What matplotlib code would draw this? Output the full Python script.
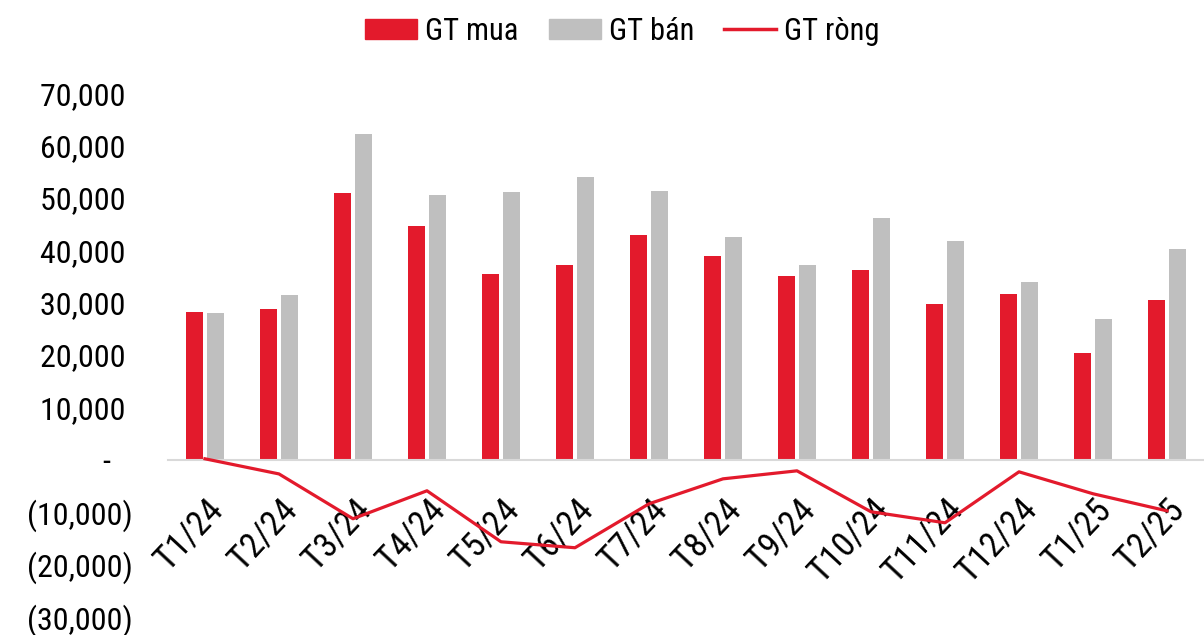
import matplotlib
matplotlib.use("Agg")
import matplotlib.pyplot as plt
import matplotlib.ticker as mticker
import matplotlib.patches as mpatches
from matplotlib.lines import Line2D
import numpy as np

months = ["T1/24", "T2/24", "T3/24", "T4/24", "T5/24", "T6/24", "T7/24",
          "T8/24", "T9/24", "T10/24", "T11/24", "T12/24", "T1/25", "T2/25"]
gt_mua = [28240, 28800, 50950, 44660, 35500, 37210, 42940,
          38930, 35110, 36260, 29770, 31680, 20420, 30530]
gt_ban = [28050, 31490, 62200, 50570, 51150, 54000, 51340,
          42560, 37210, 46180, 41790, 33970, 26900, 40270]
gt_rong = [200, -2690, -11250, -5910, -15650, -16790, -8400,
           -3630, -2100, -9920, -12020, -2290, -6480, -9740]

RED = "#E31A2C"
GRAY = "#BFBFBF"

plt.rcParams["font.family"] = ["Liberation Sans Narrow", "Roboto Condensed", "DejaVu Sans"]

fig = plt.figure(figsize=(12.04, 6.35), dpi=100)
ax = fig.add_axes([0.1395, 0.0285, 0.8605, 0.8245])

x = np.arange(len(months))
w = 0.225
ax.bar(x - 0.143, gt_mua, width=w, color=RED, zorder=2)
ax.bar(x + 0.143, gt_ban, width=w, color=GRAY, zorder=2)
ax.plot(x, gt_rong, color=RED, linewidth=2.3, zorder=3)

ax.set_xlim(-0.5, len(months) - 0.5)
ax.set_ylim(-30000, 70000)
ax.yaxis.set_major_locator(mticker.MultipleLocator(10000))


def fmt(v, _):
    if abs(v) < 1:
        return "-   "
    if v < 0:
        return f"({abs(v):,.0f})"
    return f"{v:,.0f} "


ax.yaxis.set_major_formatter(mticker.FuncFormatter(fmt))

for s in ["top", "right", "left"]:
    ax.spines[s].set_visible(False)
ax.spines["bottom"].set_position(("data", 0))
ax.spines["bottom"].set_color("#D9D9D9")
ax.spines["bottom"].set_linewidth(1.5)

ax.set_xticks(x)
ax.set_xticklabels(months, rotation=47, ha="right", va="top", rotation_mode="anchor")
ax.tick_params(axis="x", length=0, pad=24, labelsize=25)
ax.tick_params(axis="y", length=0, pad=25, labelsize=23)

handles = [
    mpatches.Patch(color=RED, label="GT mua"),
    mpatches.Patch(color=GRAY, label="GT bán"),
    Line2D([], [], color=RED, linewidth=2.5, label="GT ròng"),
]
fig.legend(handles=handles, loc="center", bbox_to_anchor=(0.517, 0.951), ncol=3,
           frameon=False, fontsize=22, handlelength=1.7, handleheight=0.65,
           handletextpad=0.25, columnspacing=1.0)

fig.savefig("out.png", dpi=100, facecolor="white")
